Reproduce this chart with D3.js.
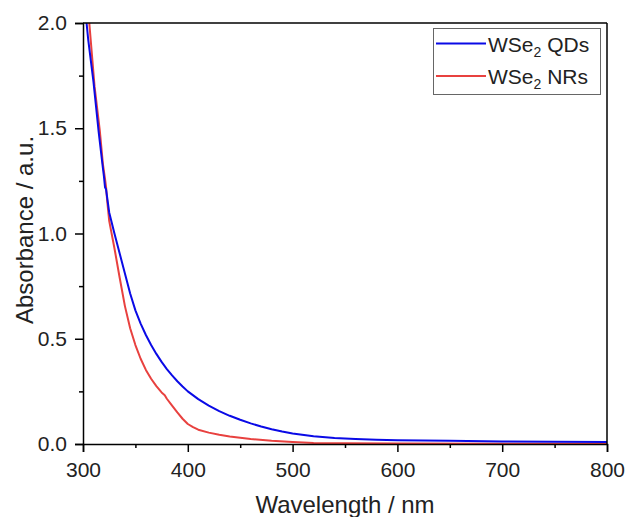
<!DOCTYPE html>
<html>
<head>
<meta charset="utf-8">
<script src="https://cdn.jsdelivr.net/npm/d3@7"></script>
<style>
  body { margin: 0; background: #fff; }
  svg { display: block; font-family: "Liberation Sans", Arial, sans-serif; }
</style>
</head>
<body>
<svg id="chart" width="627" height="517"></svg>
<script>
// Wavelength samples (nm) and absorbance for each sample
const wlQDs = [300, 303, 305, 310, 315, 319, 320, 321, 322, 325, 330, 335, 340, 345, 350, 355, 360, 365, 370, 375, 380, 385, 390, 395, 400, 410, 420, 430, 440, 450, 460, 470, 480, 490, 500, 520, 540, 560, 580, 600, 650, 700, 750, 800];
const absQDs = [2.30, 2.02, 1.92, 1.72, 1.48, 1.31, 1.27, 1.22, 1.21, 1.10, 1.00, 0.905, 0.81, 0.715, 0.635, 0.572, 0.518, 0.470, 0.428, 0.390, 0.356, 0.326, 0.298, 0.273, 0.250, 0.213, 0.182, 0.156, 0.134, 0.115, 0.098, 0.083, 0.070, 0.059, 0.050, 0.037, 0.029, 0.024, 0.020, 0.018, 0.015, 0.012, 0.011, 0.010];

const wlNRs = [300, 303, 306, 311, 316, 319, 321, 322, 323, 325, 330, 335, 340, 345, 350, 355, 360, 365, 370, 375, 378, 380, 385, 390, 395, 400, 405, 410, 420, 430, 440, 450, 460, 480, 500, 520, 550, 600, 700, 800];
const absNRs = [2.45, 2.20, 2.00, 1.70, 1.49, 1.33, 1.26, 1.22, 1.16, 1.06, 0.93, 0.79, 0.655, 0.55, 0.47, 0.405, 0.352, 0.310, 0.275, 0.245, 0.232, 0.215, 0.182, 0.150, 0.120, 0.095, 0.080, 0.068, 0.054, 0.044, 0.036, 0.030, 0.024, 0.015, 0.009, 0.005, 0.003, 0.002, 0.001, 0.001];

const seriesNames = ["QDs", "NRs"];
const xTicks = [300, 400, 500, 600, 700, 800];
const xMinorTicks = [350, 450, 550, 650, 750];
const yTicks = [0, 0.5, 1.0, 1.5, 2.0];
const yMinorTicks = [0.25, 0.75, 1.25, 1.75];

const svg = d3.select("#chart");
const plotL = 83, plotR = 607, plotT = 23, plotB = 444;

const x = d3.scaleLinear().domain([300, 800]).range([plotL, plotR]);
const y = d3.scaleLinear().domain([0, 2]).range([plotB, plotT]);

svg.append("defs").append("clipPath").attr("id", "plotClip")
  .append("rect").attr("x", plotL).attr("y", plotT)
  .attr("width", plotR - plotL).attr("height", plotB - plotT);

// Curves
const line = d3.line().x(d => x(d[0])).y(d => y(d[1]));
const series = [
  { wl: wlQDs, abs: absQDs, color: "#0a0ae6" },
  { wl: wlNRs, abs: absNRs, color: "#e8413f" }
];
const plot = svg.append("g").attr("clip-path", "url(#plotClip)");
// NRs first, then QDs on top
[series[1], series[0]].forEach(s => {
  plot.append("path")
    .datum(s.wl.map((w, i) => [w, s.abs[i]]))
    .attr("fill", "none")
    .attr("stroke", s.color)
    .attr("stroke-width", 2)
    .attr("stroke-linejoin", "round")
    .attr("d", line);
});

// Frame lines on top and right
svg.append("line").attr("x1", plotL).attr("x2", plotR).attr("y1", plotT).attr("y2", plotT)
  .attr("stroke", "#000").attr("stroke-width", 1.5);
svg.append("line").attr("x1", plotR).attr("x2", plotR).attr("y1", plotT).attr("y2", plotB)
  .attr("stroke", "#000").attr("stroke-width", 1.5);

// Axes
const fmtY = d3.format(".1f");
const xAxis = svg.append("g").attr("transform", `translate(0,${plotB})`)
  .call(d3.axisBottom(x).tickValues(xTicks).tickSize(8).tickPadding(10).tickFormat(d3.format("d")));
const xMinor = svg.append("g").attr("transform", `translate(0,${plotB})`)
  .call(d3.axisBottom(x).tickValues(xMinorTicks).tickSize(4).tickFormat(""));
const yAxis = svg.append("g").attr("transform", `translate(${plotL},0)`)
  .call(d3.axisLeft(y).tickValues(yTicks).tickSize(8).tickPadding(8).tickFormat(fmtY));
const yMinor = svg.append("g").attr("transform", `translate(${plotL},0)`)
  .call(d3.axisLeft(y).tickValues(yMinorTicks).tickSize(4).tickFormat(""));

[xAxis, xMinor, yAxis, yMinor].forEach(g => {
  g.select(".domain").attr("stroke", "#000").attr("stroke-width", 1.5);
  g.selectAll(".tick line").attr("stroke", "#000").attr("stroke-width", 1.5);
  g.selectAll(".tick text").attr("fill", "#222")
    .style("font-family", "'Liberation Sans', Arial, sans-serif").style("font-size", "21px");
});
xMinor.select(".domain").remove();
yMinor.select(".domain").remove();

// Axis titles
svg.append("text").attr("x", (plotL + plotR) / 2).attr("y", 513)
  .attr("text-anchor", "middle").attr("fill", "#222").style("font-size", "24px")
  .text("Wavelength / nm");
svg.append("text")
  .attr("transform", `translate(33,230) rotate(-90)`)
  .attr("text-anchor", "middle").attr("fill", "#222").style("font-size", "24px")
  .text("Absorbance / a.u.");

// Legend
const legend = svg.append("g");
legend.append("rect").attr("x", 433.5).attr("y", 28.5).attr("width", 167).attr("height", 66)
  .attr("fill", "#fff").attr("stroke", "#666").attr("stroke-width", 1);
series.forEach((s, i) => {
  const ly = 43.5 + i * 32.4;
  legend.append("line").attr("x1", 436).attr("x2", 486).attr("y1", ly).attr("y2", ly)
    .attr("stroke", s.color).attr("stroke-width", 2);
  const t = legend.append("text").attr("x", 488).attr("y", ly + 8)
    .attr("fill", "#222").style("font-size", "21px");
  t.append("tspan").text("WSe");
  t.append("tspan").attr("dy", 5).style("font-size", "14px").text("2");
  t.append("tspan").attr("dy", -5).text(" " + seriesNames[i]);
});
</script>
</body>
</html>
